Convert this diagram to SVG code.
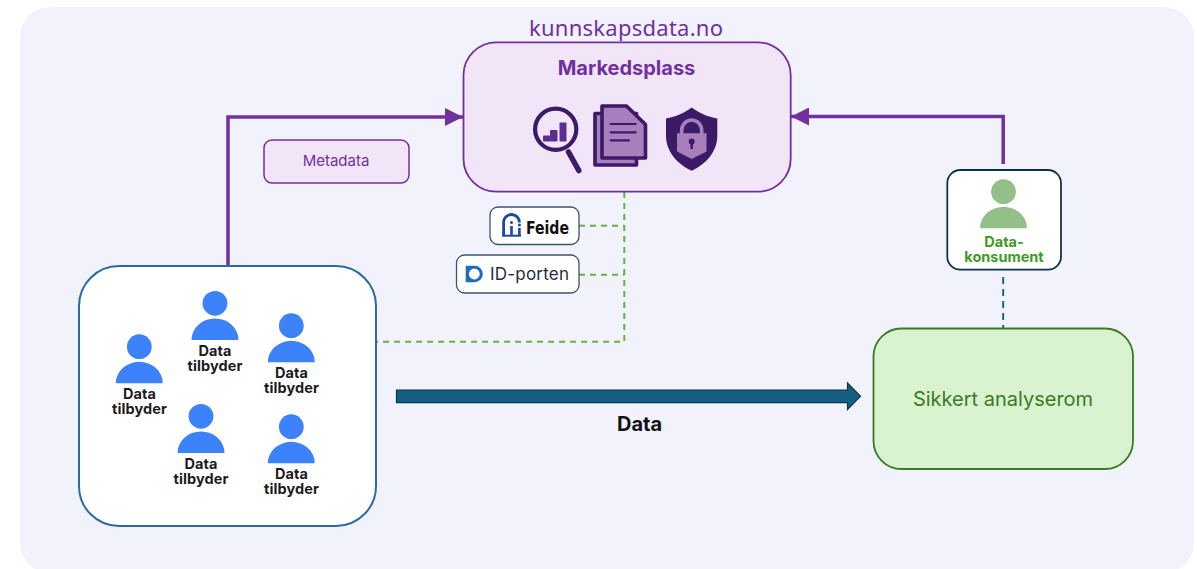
<svg xmlns="http://www.w3.org/2000/svg" width="1197" height="569" viewBox="0 0 1197 569">
<style>
text{font-family:Inter,"Liberation Sans",sans-serif}
.pt{font-size:14.5px;font-weight:700;fill:#1c1c22;text-anchor:middle;letter-spacing:.1px}
.ct{font-size:14.5px;font-weight:700;fill:#3f9a26;text-anchor:middle}
.tag{fill:#fff;stroke:#3d5468;stroke-width:1.3}
.pur{fill:none;stroke:#7030a0;stroke-width:3.5}
.grn{fill:none;stroke:#5fb53c;stroke-width:2;stroke-dasharray:6 5}
.ico{stroke:#3b1a66;stroke-linejoin:round;stroke-linecap:round}
</style>
<defs>
<marker id="ah" viewBox="0 0 10 10" refX="10" refY="5" markerWidth="18" markerHeight="18" markerUnits="userSpaceOnUse" orient="auto"><path d="M0 0L10 5L0 10Z" fill="#7030a0"/></marker>
<g id="person"><circle cx="0" cy="0" r="12.4"/><path d="M-23.5 36.6A23.5 21.5 0 0 1 23.5 36.6Z"/></g>
</defs>
<rect width="1197" height="569" fill="#fff"/>
<rect x="20" y="7" width="1174" height="566" rx="30" fill="#f2f2fc"/>
<g id="connectors">
<path class="grn" d="M624.3 192V341.8H377"/>
<path class="grn" d="M579 225.8H624.3"/>
<path class="grn" d="M579 274.7H624.3"/>
<path d="M1003.2 277V328" fill="none" stroke="#156082" stroke-width="1.9" stroke-dasharray="7 5"/>
<path class="pur" d="M228 266V117H463" marker-end="url(#ah)"/>
<path class="pur" d="M1003.2 164V116.5H791" marker-end="url(#ah)"/>
<path id="data-arrow" d="M396.5 390H847.5V383L860.5 396.3L847.5 409.5V402.7H396.5Z" fill="#156082" stroke="#0f3347" stroke-width="1.2"/>
<text x="639.5" y="431" font-size="20" font-weight="700" fill="#111" text-anchor="middle">Data</text>
</g>
<text x="626" y="36" font-size="22" fill="#7030a0" text-anchor="middle" style="font-family:'Noto Sans',sans-serif" textLength="194">kunnskapsdata.no</text>
<g id="markedsplass">
<rect x="463.5" y="42.3" width="327.2" height="149.4" rx="33" fill="#f2e5f8" stroke="#7030a0" stroke-width="1.8"/>
<text x="626.5" y="75" font-size="20" font-weight="700" fill="#7030a0" text-anchor="middle">Markedsplass</text>
<circle cx="555.7" cy="129.3" r="20.6" fill="none" stroke="#3b1a66" stroke-width="4.2"/>
<path d="M568.5 152L578.8 170.5" stroke="#3b1a66" stroke-width="5.5" stroke-linecap="round"/>
<rect x="543" y="135.5" width="7.5" height="6" rx="1" fill="#5e2d91"/>
<rect x="550" y="130" width="7.5" height="11.5" rx="1" fill="#5e2d91"/>
<rect x="559.5" y="122.5" width="7" height="19" rx="1" fill="#5e2d91"/>
<path class="ico" d="M595 113.5H636.5V165H595Z" fill="#a77fbd" stroke-width="3.6"/>
<path class="ico" d="M602 106H626.5L645.5 124.5V158H602Z" fill="#a77fbd" stroke-width="3.6"/>
<path d="M610.7 124H635.7M610.7 132.3H635.7M610.7 140.3H629" fill="none" stroke="#3b1a66" stroke-width="2.2" stroke-linecap="round"/>
<path d="M691.7 107.5C698 112.5 708 117 717.3 118.5V136C717.3 152 705 165 691.7 170.7C678.5 165 666 152 666 136V118.5C675.5 117 685.5 112.5 691.7 107.5Z" fill="#3b1a66"/>
<path d="M681.7 134V130.5A10 10.5 0 0 1 701.7 130.5V134" fill="none" stroke="#a77fbd" stroke-width="3.6"/>
<path d="M677 133.3H706.5V151.5L691.7 159L677 151.5Z" fill="#a77fbd"/>
<circle cx="691.7" cy="141.5" r="3" fill="#3b1a66"/>
<rect x="690.5" y="142" width="2.4" height="7" fill="#3b1a66"/>
</g>
<g id="metadata">
<rect x="264" y="140" width="145" height="43" rx="8" fill="#f2e5f8" stroke="#7030a0" stroke-width="1.5"/>
<text x="336" y="166" font-size="15" fill="#7030a0" text-anchor="middle">Metadata</text>
</g>
<g id="feide">
<rect class="tag" x="490" y="207" width="89" height="37.5" rx="8"/>
<path d="M503.6 235V222.5A7.9 8 0 0 1 519.4 222.5" fill="none" stroke="#1f47a0" stroke-width="2.8"/>
<path d="M502 235.7H521" fill="none" stroke="#1f47a0" stroke-width="2"/>
<path d="M511.5 226V235M519.4 228V235" fill="none" stroke="#1f47a0" stroke-width="2.6"/>
<circle cx="511.5" cy="222.5" r="1.5" fill="#1f47a0"/>
<circle cx="519.4" cy="225" r="1.5" fill="#1f47a0"/>
<text x="526" y="233.7" font-size="17" font-weight="700" fill="#111" textLength="43" lengthAdjust="spacingAndGlyphs" style="font-family:'DejaVu Sans Condensed','DejaVu Sans',sans-serif">Feide</text>
</g>
<g id="id-porten">
<rect class="tag" x="456.5" y="255" width="122.5" height="38" rx="8"/>
<path d="M465.7 265.7H474.5A8.3 8.3 0 0 1 474.5 282.3H465.7Z" fill="#1b6bbf"/>
<circle cx="474.3" cy="274" r="5.4" fill="#fff"/>
<text x="490" y="280" font-size="17" fill="#1f2d3d" textLength="79">ID-porten</text>
</g>
<g id="tilbydere">
<rect x="79" y="266" width="297" height="260" rx="40" fill="#fff" stroke="#2a6ba4" stroke-width="2"/>
<g id="p1" fill="#3b82fb"><use href="#person" x="139.3" y="346.7"/><text class="pt" y="399"><tspan x="139.5">Data</tspan><tspan x="139.5" dy="15">tilbyder</tspan></text></g>
<g id="p2" fill="#3b82fb"><use href="#person" x="215" y="303.3"/><text class="pt" y="356"><tspan x="215">Data</tspan><tspan x="215" dy="15">tilbyder</tspan></text></g>
<g id="p3" fill="#3b82fb"><use href="#person" x="291.3" y="325.7"/><text class="pt" y="378"><tspan x="291.5">Data</tspan><tspan x="291.5" dy="15">tilbyder</tspan></text></g>
<g id="p4" fill="#3b82fb"><use href="#person" x="201" y="416.3"/><text class="pt" y="468.5"><tspan x="201">Data</tspan><tspan x="201" dy="15">tilbyder</tspan></text></g>
<g id="p5" fill="#3b82fb"><use href="#person" x="291.3" y="426.7"/><text class="pt" y="479"><tspan x="291.5">Data</tspan><tspan x="291.5" dy="15">tilbyder</tspan></text></g>
</g>
<g id="datakonsument">
<rect x="947.3" y="170" width="113.7" height="99.7" rx="13" fill="#fff" stroke="#0f3347" stroke-width="1.8"/>
<use href="#person" x="1003.5" y="191.7" fill="#93c088"/>
<text class="ct" y="247"><tspan x="1004">Data-</tspan><tspan x="1004" dy="15">konsument</tspan></text>
</g>
<g id="analyserom">
<rect x="873.5" y="328.5" width="259.5" height="140.5" rx="28" fill="#d9f2d0" stroke="#3a7c22" stroke-width="1.8"/>
<text x="1003" y="406" font-size="20" fill="#3a7c22" text-anchor="middle">Sikkert analyserom</text>
</g>
</svg>
